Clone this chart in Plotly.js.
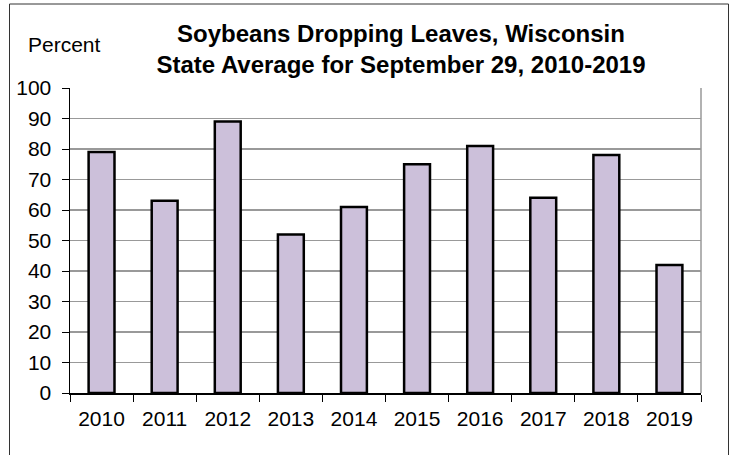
<!DOCTYPE html>
<html>
<head>
<meta charset="utf-8">
<script src="https://cdn.plot.ly/plotly-3.0.1.min.js"></script>
<style>html,body{margin:0;padding:0;background:#fff;}#chart{width:736px;height:455px;}</style>
</head>
<body>
<div id="chart"></div>
<script>
const years = ['2010','2011','2012','2013','2014','2015','2016','2017','2018','2019'];
const percentDropping = [79, 63, 89, 52, 61, 75, 81, 64, 78, 42];
const yTicks = [0,10,20,30,40,50,60,70,80,90,100];

const FONT = '"Liberation Sans", Arial, sans-serif';

const trace = {
  type: 'bar',
  x: years,
  y: percentDropping,
  marker: {color: '#CCC0DA', line: {color: '#000000', width: 2.5}},
  hoverinfo: 'x+y'
};

const layout = {
  width: 736, height: 455,
  margin: {l: 70, r: 35, t: 88, b: 62, pad: 0},
  paper_bgcolor: '#ffffff',
  plot_bgcolor: '#ffffff',
  font: {family: FONT, size: 21, color: '#000'},
  showlegend: false,
  bargap: 0.59,
  title: {
    text: '<b>Soybeans Dropping Leaves, Wisconsin<br>State Average for September 29, 2010-2019</b>',
    font: {family: FONT, size: 24, color: '#000'},
    x: 401/736, xanchor: 'center', xref: 'container',
    y: 1 - 42/455, yanchor: 'middle', yref: 'container'
  },
  xaxis: {
    type: 'category',
    categoryarray: years,
    tickson: 'boundaries',
    ticks: 'outside', ticklen: 7, tickwidth: 1, tickcolor: '#000',
    showline: true, linecolor: '#000', linewidth: 1.5,
    showgrid: false, zeroline: false,
    ticklabelstandoff: 6,
    tickfont: {family: FONT, size: 21, color: '#000'}
  },
  yaxis: {
    range: [0, 100],
    tickvals: yTicks,
    ticks: 'outside', ticklen: 7, tickwidth: 1, tickcolor: '#000',
    showline: true, linecolor: '#000', linewidth: 1.5,
    showgrid: true, gridcolor: '#999999', gridwidth: 1.5,
    zeroline: false,
    ticklabelstandoff: 6,
    tickfont: {family: FONT, size: 21, color: '#000'}
  },
  annotations: [{
    text: 'Percent', xref: 'paper', yref: 'paper',
    x: (64 - 70)/631, y: (393 - 45)/305,
    xanchor: 'center', yanchor: 'middle', showarrow: false,
    font: {family: FONT, size: 21, color: '#000'}
  }],
  shapes: [
    {type: 'line', xref: 'paper', yref: 'paper', x0: 1, x1: 1, y0: 0, y1: 1,
     line: {color: '#999999', width: 1.5}},
    {type: 'rect', xref: 'paper', yref: 'paper',
     x0: (9.5 - 70)/631, x1: (728.5 - 70)/631,
     y0: (393 - 470)/305, y1: (393 - 4)/305,
     line: {color: '#333333', width: 1}, fillcolor: 'rgba(0,0,0,0)', layer: 'below'}
  ]
};

Plotly.newPlot('chart', [trace], layout, {displayModeBar: false, staticPlot: true});
</script>
</body>
</html>
